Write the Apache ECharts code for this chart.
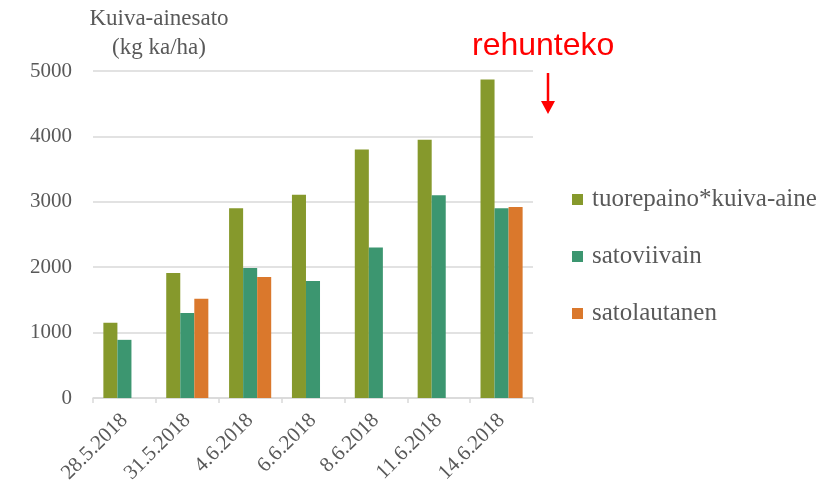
<!DOCTYPE html>
<html>
<head>
<meta charset="utf-8">
<script src="https://cdn.jsdelivr.net/npm/echarts@6/dist/echarts.min.js"></script>
<style>
  html, body { margin: 0; padding: 0; background: #fff; }
  #chart { width: 838px; height: 486px; }
</style>
</head>
<body>
<div id="chart"></div>
<script>
// dates of the harvest samples
var dates = ['28.5.2018', '31.5.2018', '4.6.2018', '6.6.2018', '8.6.2018', '11.6.2018', '14.6.2018'];
var series_names = ['tuorepaino*kuiva-aine', 'satoviivain', 'satolautanen'];
// kg ka/ha
var tuorepaino = [1150, 1910, 2900, 3110, 3800, 3950, 4870];
var satoviivain = [890, 1300, 1990, 1790, 2300, 3100, 2900];
var satolautanen = [null, 1520, 1850, null, null, null, 2920];
var y_ticks = [0, 1000, 2000, 3000, 4000, 5000];

var serif = '"Liberation Serif", "DejaVu Serif", serif';
var txt_color = '#595959';
var colors = ['#86992c', '#3c9670', '#da782c'];

var chart_div = echarts.init(document.getElementById('chart'));
var option = {
  color: colors,
  animation: false,
  grid: {
    left: 93,
    right: 305,
    top: 71,
    bottom: 86
  },
  legend: {
    data: series_names,
    orient: 'vertical',
    left: 567,
    top: 182,
    itemWidth: 11,
    itemHeight: 11,
    itemGap: 32,
    icon: 'rect',
    textStyle: {
      fontFamily: serif,
      fontSize: 25,
      lineHeight: 25,
      padding: [0, 0, 0, 4],
      color: txt_color
    }
  },
  xAxis: {
    type: 'category',
    data: dates,
    axisLine: { lineStyle: { color: '#d9d9d9', width: 1.5 } },
    axisTick: { show: true, length: 5, lineStyle: { color: '#d9d9d9', width: 1.5 } },
    axisLabel: {
      rotate: 45,
      interval: 0,
      margin: 19,
      fontFamily: serif,
      fontSize: 21,
      color: txt_color
    }
  },
  yAxis: {
    type: 'value',
    min: y_ticks[0],
    max: y_ticks[y_ticks.length - 1],
    interval: 1000,
    axisLine: { show: false },
    axisTick: { show: false },
    splitLine: { lineStyle: { color: '#d9d9d9', width: 1.5 } },
    axisLabel: {
      margin: 21,
      fontFamily: serif,
      fontSize: 21,
      color: txt_color,
      formatter: function (v) { return String(v); }
    }
  },
  graphic: [
    {
      type: 'text',
      x: 159,
      y: 4,
      style: {
        text: 'Kuiva-ainesato\n(kg ka/ha)',
        align: 'center',
        font: '23px ' + serif,
        lineHeight: 29,
        fill: txt_color
      }
    },
    {
      type: 'text',
      x: 472,
      y: 30,
      style: {
        text: 'rehunteko',
        font: '32px "Liberation Sans", Arial, sans-serif',
        fill: '#ff0000'
      }
    },
    {
      type: 'line',
      shape: { x1: 548, y1: 73, x2: 548, y2: 104 },
      style: { stroke: '#ff0000', lineWidth: 2.5 }
    },
    {
      type: 'polygon',
      shape: { points: [[541, 101], [555, 101], [548, 114]] },
      style: { fill: '#ff0000' }
    }
  ],
  series: [
    {
      name: series_names[0],
      type: 'bar',
      barGap: 0,
      barCategoryGap: '33%',
      data: tuorepaino
    },
    {
      name: series_names[1],
      type: 'bar',
      barGap: 0,
      barCategoryGap: '33%',
      data: satoviivain
    },
    {
      name: series_names[2],
      type: 'bar',
      barGap: 0,
      barCategoryGap: '33%',
      data: satolautanen
    }
  ]
};
chart_div.setOption(option);
</script>
</body>
</html>
